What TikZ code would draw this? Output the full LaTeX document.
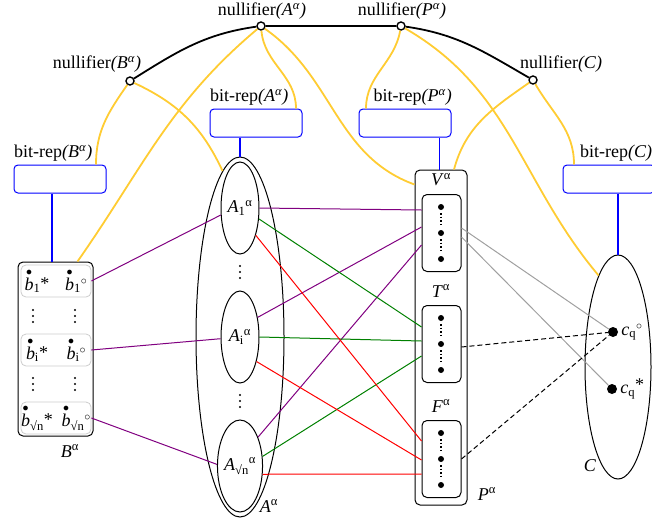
\documentclass[tikz,border=0pt]{standalone}
\usepackage{fontspec}
\setmainfont{Liberation Serif}
\usetikzlibrary{positioning,shapes.geometric}

\definecolor{Gold}{HTML}{FFCC33}
\definecolor{Purple}{HTML}{800080}
\definecolor{Green}{HTML}{008000}
\definecolor{Red}{HTML}{FF0000}
\definecolor{Grey}{HTML}{A0A0A0}

\newcommand{\ia}[1]{\textit{(#1\textsuperscript{α})}}
\newcommand{\ssub}[3]{\textit{#1}\textsubscript{#2}#3}
\newcommand{\st}{\raisebox{1pt}{*}}
\newcommand{\ci}{\raisebox{6pt}{\fontsize{13}{13}\selectfont$\circ$}}
\newcommand{\bdot}[2]{$\stackrel{\bullet}{\mbox{\textit{b}}}$\textsubscript{#1}#2}

\begin{document}
\begin{tikzpicture}[x=1pt,y=-1pt,
every node/.style={font=\fontsize{18}{20}\selectfont,inner sep=0pt},
nul/.style={circle,draw,fill=white,line width=1.4pt,minimum size=8pt},
bitbox/.style={draw=blue,rounded corners=4pt,line width=1pt,minimum width=92pt,minimum height=28pt},
sbox/.style={draw,rounded corners=5pt,line width=1pt},
rowbox/.style={draw=black!20,rounded corners=5pt,line width=0.8pt,minimum width=70pt,minimum height=32pt},
ell/.style={ellipse,draw,line width=1pt},
yel/.style={draw=Gold,line width=1.8pt},
bl/.style={draw=blue,line width=1.4pt},
c/.style={draw=#1,line width=1pt},
dsh/.style={draw=black,line width=1pt,dash pattern=on 5pt off 3pt}]
\useasboundingbox (0,0) rectangle (652,522);

% nullifiers
\node[nul] (nB) at (130,81) {};
\node[nul] (nA) at (261,26) {};
\node[nul] (nP) at (401,26) {};
\node[nul] (nC) at (533,80) {};
\node (lnB) at (97,64) {nullifier\ia{B}};
\node (lnA) at (262,11) {nullifier\ia{A}};
\node (lnP) at (402,11) {nullifier\ia{P}};
\node (lnC) at (561,64) {nullifier\textit{(C)}};
\draw[line width=1.8pt] (nB) to[out=32,in=188] (nA) -- (nP) to[out=-8,in=150] (nC);

% bit-rep boxes
\node[bitbox] (bB) at (60,179) {};
\node[bitbox] (bA) at (256,123) {};
\node[bitbox] (bP) at (405,123) {};
\node[bitbox] (bC) at (609,179) {};
\node[anchor=west] (lbB) at (14,153) {bit-rep\ia{B}};
\node[anchor=west] (lbA) at (210,97) {bit-rep\ia{A}};
\node[anchor=east] (lbP) at (452,97) {bit-rep\ia{P}};
\node[anchor=west] (lbC) at (580,153) {bit-rep\textit{(C)}};

% B
\node[sbox,minimum width=75pt,minimum height=174pt] (Bx) at (55.5,349) {};
\foreach \r/\y/\s in {1/281/1,i/350/i,n/418/√n}{
  \node[rowbox] (r\r) at (56,\y) {};
  \node (bs\r) at (37,\y) {\bdot{\s}{\st}};
  \node (bo\r) at (76,\y) {\bdot{\s}{\ci}};
}
\foreach \x/\y in {33/316,75/316,33/384,75/384,240/272,240/401}
  \foreach \d in {-6,0,6} \fill (\x,\y+\d) circle (1.2pt);
\node (lB) at (70,451) {\textit{B}\textsuperscript{α}};

% A
\node[ell,minimum width=88pt,minimum height=360pt] (Ax) at (240,337) {};
\node[ell,minimum width=38pt,minimum height=92pt] (A1) at (240,208) {\ssub{A}{1}{\textsuperscript{α}}};
\node[ell,minimum width=38pt,minimum height=92pt] (Ai) at (240,337) {\ssub{A}{i}{\textsuperscript{α}}};
\node[ell,minimum width=38pt,minimum height=92pt] (An) at (240,466) {\ssub{A}{√n}{\textsuperscript{α}}};
\node (lA) at (269,506) {\textit{A}\textsuperscript{α}};

% P
\node[sbox,minimum width=52pt,minimum height=335pt] (Px) at (441,337.5) {};
\foreach \n/\y in {V/233,T/344,F/459}{
  \node[sbox,minimum width=39pt,minimum height=77pt] (\n) at (441.5,\y) {};
  \node (l\n) at (441,\y-53) {\textit{\n}\textsuperscript{α}};
  \foreach \d in {-26,0,26} \fill (441,\y+\d) circle (3pt);
  \draw[dotted,line width=1.6pt] (441,\y-20) -- (441,\y-6) (441,\y+6) -- (441,\y+20);
}
\node (lP) at (487,494) {\textit{P}\textsuperscript{α}};

% C
\node[ell,minimum width=66pt,minimum height=224pt] (Cx) at (618,367) {};
\node[circle,fill,minimum size=10pt] (co) at (613,332) {};
\node[circle,fill,minimum size=10pt] (cs) at (612,389) {};
\node[right=3pt of co] (lco) {\ssub{c}{q}{\ci}};
\node[right=3pt of cs] (lcs) {\ssub{c}{q}{\raisebox{3pt}{*}}};
\node (lC) at (590,466) {\textit{C}};

% blue links
\draw[bl] ([xshift=-3.5pt]Bx.north |- bB.south) -- ([xshift=-3.5pt]Bx.north);
\draw[bl] (Ax.north |- bA.south) -- (Ax.north);
\draw[bl] ([xshift=-1.5pt]Px.north |- bP.south) -- ([xshift=-1.5pt]Px.north);
\draw[bl] (Cx.north |- bC.south) -- (Cx.north);

% yellow links
\draw[yel] (nB) to[out=-125,in=90] ([xshift=36pt]bB.north);
\draw[yel] (nB) to[out=-25,in=115] (Ax.96);
\draw[yel] (nA) to[out=-140,in=55] ([xshift=22pt]Bx.north);
\draw[yel] (nA) to[out=-85,in=90] ([xshift=40pt]bA.north);
\draw[yel] (nA) to[out=-35,in=160] ([yshift=-15pt]Px.north west);
\draw[yel] (nP) to[out=-100,in=90] ([xshift=-39pt]bP.north);
\draw[yel] (nP) to[out=-30,in=130] (Cx.102);
\draw[yel] (nC) to[out=-145,in=75] ([xshift=13pt]Px.north);
\draw[yel] (nC) to[out=-60,in=90] ([xshift=-35pt]bC.north);

% B to A
\draw[c=Purple] (r1.east) -- (A1.200);
\draw[c=Purple] (ri.east) -- (Ai.185);
\draw[c=Purple] (rn.east) -- (An.176);

% A to P
\draw[c=Purple] (A1.east) -- ([yshift=23pt]V.west);
\draw[c=Purple] (Ai.48) -- ([yshift=6pt]V.west);
\draw[c=Purple] (An.58) -- ([yshift=-12pt]V.west);
\draw[c=Green] (A1.-30) -- ([yshift=17pt]T.west);
\draw[c=Green] (Ai.east) -- ([yshift=3pt]T.west);
\draw[c=Green] (An.23) -- ([yshift=-12pt]T.west);
\draw[c=Red] (A1.-60) -- ([yshift=18pt]F.west);
\draw[c=Red] (Ai.-56) -- ([yshift=-1pt]F.west);
\draw[c=Red] (An.-20) -- ([yshift=-15pt]F.west);

% P to C
\draw[c=Grey] ([yshift=5pt]V.east) -- (co);
\draw[c=Grey] ([yshift=-4pt]V.east) -- (cs);
\draw[dsh] ([yshift=-3pt]T.east) -- (co);
\draw[dsh] (F.east) -- (co);
\end{tikzpicture}
\end{document}
